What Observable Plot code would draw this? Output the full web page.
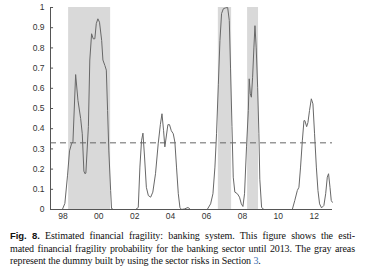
<!DOCTYPE html>
<html>
<head>
<meta charset="utf-8">
<script src="https://cdn.jsdelivr.net/npm/d3@7"></script>
<script src="https://cdn.jsdelivr.net/npm/@observablehq/plot@0.6"></script>
<style>
  html, body { margin: 0; padding: 0; background: #fff; }
  #wrap { position: relative; width: 366px; height: 270px; overflow: hidden; }
  #chart { position: absolute; left: 0; top: 0; }
  #cap { position: absolute; left: 10px; top: 230px; width: 345px;
         font-family: "Liberation Serif", serif; font-size: 10px; line-height: 12.7px; color: #111; letter-spacing: -0.1px; }
  #cap .j { text-align: justify; text-align-last: justify; white-space: nowrap; }
  #cap .l { text-align: left; white-space: nowrap; }
  #cap b { font-family: "Liberation Sans", sans-serif; font-size: 9.5px; }
  #cap .lnk { color: #3a6db5; }
</style>
</head>
<body>
<div id="wrap">
  <div id="chart"></div>
  <div id="cap">
    <div class="j"><b>Fig. 8.</b> Estimated financial fragility: banking system. This figure shows the esti-</div>
    <div class="j">mated financial fragility probability for the banking sector until 2013. The gray areas</div>
    <div class="l">represent the dummy built by using the sector risks in Section <span class="lnk">3</span>.</div>
  </div>
</div>
<script>
// Fractional years (x) and estimated fragility probability (y)
const years = [1997.31, 1997.65, 1997.97, 1998.11, 1998.26, 1998.37, 1998.48, 1998.56, 1998.71, 1998.84,
  1998.99, 1999.08, 1999.17, 1999.23, 1999.28, 1999.42, 1999.50, 1999.60, 1999.69, 1999.78,
  1999.86, 1999.95, 2000.04, 2000.16, 2000.23, 2000.34, 2000.42, 2000.49, 2000.56, 2000.66,
  2000.71, 2000.82, 2002.05, 2002.20, 2002.29, 2002.38, 2002.46, 2002.55, 2002.65, 2002.76,
  2002.89, 2003.01, 2003.16, 2003.31, 2003.43, 2003.52, 2003.61, 2003.68, 2003.85, 2003.94,
  2004.04, 2004.15, 2004.24, 2004.33, 2004.43, 2004.52, 2004.61, 2004.78, 2004.97, 2005.11,
  2006.04, 2006.23, 2006.36, 2006.47, 2006.56, 2006.66, 2006.75, 2006.84, 2006.94, 2007.06,
  2007.18, 2007.27, 2007.34, 2007.42, 2007.49, 2007.58, 2007.72, 2007.84, 2007.94, 2008.03,
  2008.12, 2008.23, 2008.33, 2008.38, 2008.44, 2008.50, 2008.57, 2008.64, 2008.70, 2008.77,
  2008.85, 2008.92, 2008.97, 2009.07, 2009.20, 2010.78, 2010.92, 2011.06, 2011.15, 2011.24,
  2011.34, 2011.43, 2011.48, 2011.58, 2011.65, 2011.74, 2011.84, 2011.93, 2012.02, 2012.12,
  2012.21, 2012.30, 2012.41, 2012.54, 2012.64, 2012.73, 2012.80, 2012.88, 2012.95, 2013.01];
const probs = [0, 0, 0, 0.03, 0.17, 0.29, 0.325, 0.335, 0.668, 0.54,
  0.45, 0.375, 0.19, 0.177, 0.18, 0.41, 0.74, 0.87, 0.845, 0.845,
  0.92, 0.944, 0.927, 0.837, 0.74, 0.713, 0.69, 0.49, 0.29, 0.094,
  0.005, 0, 0, 0.01, 0.21, 0.34, 0.378, 0.26, 0.11, 0.069,
  0.061, 0.086, 0.177, 0.325, 0.42, 0.474, 0.39, 0.31, 0.42, 0.42,
  0.39, 0.375, 0.333, 0.21, 0.078, 0.01, 0, 0.003, 0.01, 0,
  0, 0.028, 0.078, 0.21, 0.375, 0.62, 0.837, 0.97, 0.994, 0.998,
  1.0, 0.936, 0.70, 0.41, 0.16, 0.086, 0.078, 0.061, 0.028, 0.015,
  0.078, 0.31, 0.49, 0.647, 0.573, 0.556, 0.655, 0.80, 0.91, 0.80,
  0.605, 0.375, 0.15, 0.01, 0, 0, 0.045, 0.094, 0.11, 0.21,
  0.34, 0.44, 0.44, 0.41, 0.43, 0.49, 0.548, 0.523, 0.375, 0.21,
  0.094, 0.028, 0.008, 0.02, 0.078, 0.16, 0.177, 0.11, 0.045, 0.036];

// Gray areas: dummy periods
const bandStart = [1998.32, 2006.66, 2008.29];
const bandEnd   = [2000.66, 2007.40, 2008.90];

const threshold = 0.33;
const xDomain = [1997.31, 2013.02];
const xTicks = [1998, 2000, 2002, 2004, 2006, 2008, 2010, 2012];
const yTicks = [0, 0.1, 0.2, 0.3, 0.4, 0.5, 0.6, 0.7, 0.8, 0.9, 1];

const series = years.map((x, i) => ({x, y: probs[i]}));
const bands = bandStart.map((s, i) => ({s, e: bandEnd[i]}));

const axisColor = "#555";
const chart = Plot.plot({
  width: 366,
  height: 226,
  marginTop: 7,
  marginBottom: 17,
  marginLeft: 50,
  marginRight: 34,
  style: {fontFamily: "'Liberation Sans', Arial, sans-serif", fontSize: "8.5px", color: "#333", background: "#fff"},
  x: {domain: xDomain, ticks: xTicks, tickFormat: d => String(d % 100).padStart(2, "0"), tickSize: 0, tickPadding: 3, label: null},
  y: {domain: [0, 1], ticks: yTicks, tickFormat: d => String(d), tickSize: 0, tickPadding: 6, label: null},
  marks: [
    Plot.rect(bands, {x1: "s", x2: "e", y1: () => 0, y2: () => 1, fill: "#d9d9d9"}),
    Plot.ruleY([threshold], {stroke: "#666", strokeWidth: 1, strokeDasharray: "6,4"}),
    Plot.line(series, {x: "x", y: "y", stroke: "#686868", strokeWidth: 1}),
    Plot.ruleY(yTicks, {x1: xDomain[0], x2: xDomain[0] + 0.17, stroke: axisColor}),
    Plot.ruleX([xDomain[0]], {y1: 0, y2: 1, stroke: axisColor}),
    Plot.ruleY([0], {stroke: axisColor}),
    Plot.axisX({ticks: xTicks, tickFormat: d => String(d % 100).padStart(2, "0"), tickSize: 0, tickPadding: 3}),
    Plot.axisY({ticks: yTicks, tickFormat: d => String(d), tickSize: 0, tickPadding: 6})
  ]
});
document.getElementById("chart").appendChild(chart);
</script>
</body>
</html>
